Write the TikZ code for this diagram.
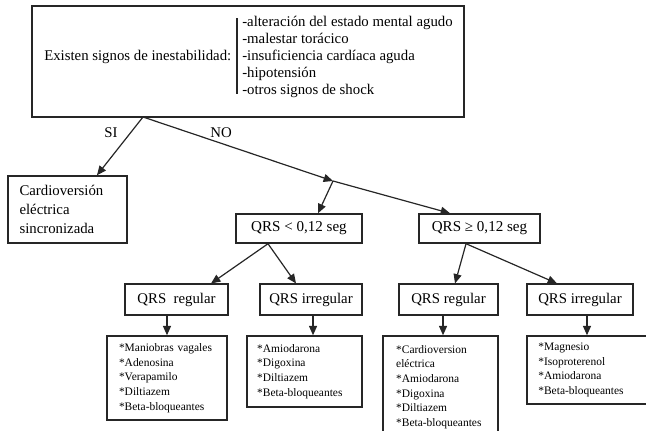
\documentclass[tikz,border=0pt]{standalone}
\usepackage{fontspec}
\setmainfont{Liberation Serif}
\usetikzlibrary{arrows.meta, positioning, calc}
\definecolor{edge}{HTML}{262626}

\begin{document}
\begin{tikzpicture}[x=0.75pt, y=-0.75pt,
    every node/.style={font=\fontsize{11.1}{12.75}\selectfont},
    box/.style={draw=edge, line width=1.1pt, inner sep=0pt, align=center, minimum height=23pt},
    med/.style={draw=edge, line width=1.1pt, align=left, inner ysep=0pt,
        font=\fontsize{8.6}{11}\selectfont},
    arr/.style={draw=edge, line width=0.9pt, -{Triangle[length=7pt, width=6pt]}},
]
\useasboundingbox (0,0) rectangle (646,431);

% the question and its signs
\node[box, minimum width=324pt, minimum height=83.25pt] (top) at (248,61.5) {};
\node[anchor=west, inner sep=0pt] (ask) at (44,57) {Existen signos de inestabilidad:};
\node[anchor=west, align=left, inner sep=0pt] (signs) at (242,56.5)
     {-alteración del estado mental agudo\\-malestar torácico\\-insuficiencia cardíaca aguda\\-hipotensión\\-otros signos de shock};
\draw[edge, line width=1.1pt] ([xshift=-3.75pt, yshift=-2pt]signs.north west)
     -- ([xshift=-3.75pt, yshift=3pt]signs.south west);

\coordinate (topout) at (143,117);
\coordinate (jn) at (333,181);
\node (si) at (111,133) {SI};
\node (no) at (221,133) {NO};

\node[box, align=left, text width=72pt, inner xsep=8.5pt, minimum height=50.25pt,
      font=\fontsize{11.1}{14.25}\selectfont] (cardio) at (67.5,209.5)
     {Cardioversión\\eléctrica\\sincronizada};

\node[box, minimum width=94.5pt, minimum height=21.75pt, font=\fontsize{11.3}{13}\selectfont] (narrow) at (299,228.5) {QRS < 0,12 seg};
\node[box, minimum width=90.75pt, minimum height=21.75pt, font=\fontsize{11.3}{13}\selectfont] (wide) at (479.5,228.5) {QRS ≥ 0,12 seg};

\node[box, minimum width=77.25pt] (nreg) at (176.5,299.5) {QRS\ \ regular};
\node[box, minimum width=76.5pt] (nirr) at (311,299.5) {QRS irregular};
\node[box, minimum width=74.25pt] (wreg) at (448.5,299.5) {QRS regular};
\node[box, minimum width=79.5pt] (wirr) at (580,299.5) {QRS irregular};

% the drugs
\node[med, text width=72pt, inner xsep=9pt, minimum height=63pt] (drugA) at (167,378)
     {*Maniobras vagales\\{}*Adenosina\\{}*Verapamilo\\{}*Diltiazem\\{}*Beta-bloqueantes};
\node[med, text width=71pt, inner xsep=7.5pt, minimum height=53.25pt] (drugB) at (304.5,371.5)
     {*Amiodarona\\{}*Digoxina\\{}*Diltiazem\\{}*Beta-bloqueantes};
\node[med, text width=66.5pt, inner xsep=9.75pt, minimum height=76.5pt] (drugC) at (440.5,387)
     {*Cardioversion\\eléctrica\\{}*Amiodarona\\{}*Digoxina\\{}*Diltiazem\\{}*Beta-bloqueantes};
\node[med, text width=73pt, inner xsep=8.5pt, minimum height=51pt] (drugD) at (587,370)
     {*Magnesio\\{}*Isoproterenol\\{}*Amiodarona\\{}*Beta-bloqueantes};

\draw[arr] (topout) -- ([xshift=22.1pt]cardio.north);
\draw[arr] (topout) -- (jn);
\draw[arr] (jn) -- ([xshift=14.25pt]narrow.north);
\draw[arr] (jn) -- ([xshift=-22.1pt]wide.north);

\draw[arr] ([xshift=-23.25pt]narrow.south) -- ([xshift=25.9pt]nreg.north);
\draw[arr] ([xshift=-23.25pt]narrow.south) -- ([xshift=-11.25pt]nirr.north);
\draw[arr] ([xshift=-10.1pt]wide.south) -- ([xshift=4.9pt]wreg.north);
\draw[arr] ([xshift=-10.1pt]wide.south) -- ([xshift=-17.25pt]wirr.north);

\draw[arr] (drugA.north |- nreg.south) -- (drugA.north);
\draw[arr] ([xshift=6.4pt]drugB.north |- nirr.south) -- ([xshift=6.4pt]drugB.north);
\draw[arr] ([xshift=1.9pt]drugC.north |- wreg.south) -- ([xshift=1.9pt]drugC.north);
\draw[arr] (drugD.north |- wirr.south) -- (drugD.north);
\end{tikzpicture}
\end{document}
